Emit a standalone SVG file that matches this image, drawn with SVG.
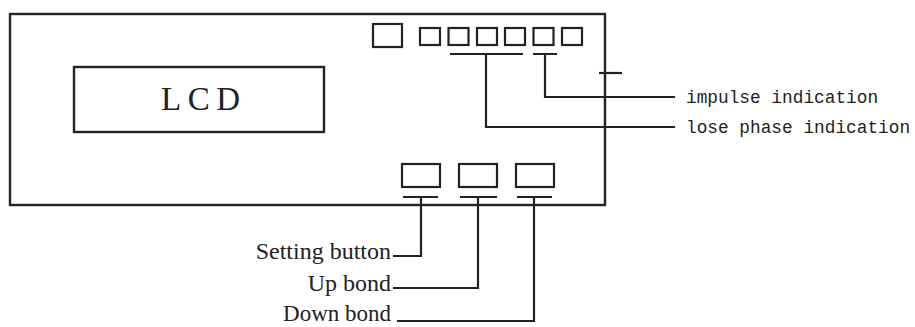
<svg xmlns="http://www.w3.org/2000/svg" width="915" height="327" viewBox="0 0 915 327">
<style>
.box{fill:none;stroke:#222;stroke-width:2.4}
.key{fill:none;stroke:#222;stroke-width:2.2}
.ln{fill:none;stroke:#222;stroke-width:2.2}
.serif{font-family:"Liberation Serif","Times New Roman",serif;fill:#222}
.mono{font-family:"Liberation Mono","Courier New",monospace;fill:#222;font-size:17.8px}
</style>
<rect width="915" height="327" fill="#fff"/>
<g id="panel"><rect class="box" x="10" y="14" width="595" height="191"/></g>
<g id="lcd"><rect class="box" x="74" y="67" width="250" height="65"/>
<text class="serif" x="161" y="110" font-size="33" textLength="79" lengthAdjust="spacing">LCD</text></g>
<g id="top-keys">
<rect class="key" x="373" y="24" width="29" height="23"/>
<rect class="key" x="420" y="28" width="20" height="17"/>
<rect class="key" x="448.5" y="28" width="20" height="17"/>
<rect class="key" x="477" y="28" width="20" height="17"/>
<rect class="key" x="505" y="28" width="20" height="17"/>
<rect class="key" x="533.5" y="28" width="20" height="17"/>
<rect class="key" x="562" y="28" width="20" height="17"/>
</g>
<g id="buttons">
<rect class="key" x="402" y="164" width="38" height="23"/>
<rect class="key" x="459" y="164" width="38" height="23"/>
<rect class="key" x="516" y="164" width="38" height="23"/>
</g>
<g id="connectors">
<path class="ln" d="M450 54H523M486 54V127H675"/>
<path class="ln" d="M533 54H557M545 54V97H675"/>
<path class="ln" d="M599 73H622"/>
<path class="ln" d="M403 197H438M421 197V256H393"/>
<path class="ln" d="M460 197H497M478 197V288H393"/>
<path class="ln" d="M517 197H552M534 197V321H397"/>
</g>
<g id="labels">
<text class="mono" x="686" y="103">impulse indication</text>
<text class="mono" x="686" y="133">lose phase indication</text>
<text class="serif" x="391" y="259" font-size="24" text-anchor="end">Setting button</text>
<text class="serif" x="391" y="291" font-size="24" text-anchor="end">Up bond</text>
<text class="serif" x="391" y="321" font-size="23" text-anchor="end">Down bond</text>
</g>
</svg>
